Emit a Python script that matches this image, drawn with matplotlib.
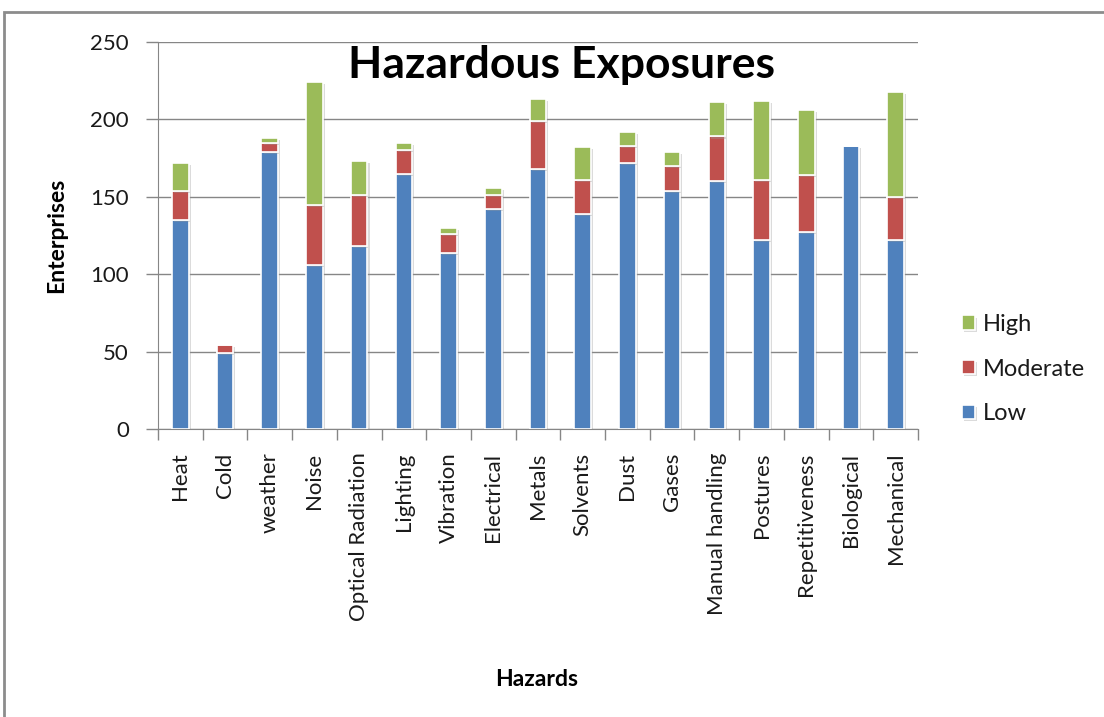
import matplotlib
matplotlib.use('Agg')
import matplotlib.pyplot as plt
import matplotlib.patheffects as pe
import numpy as np
from matplotlib.patches import Rectangle

hazards = ['Heat', 'Cold', 'weather', 'Noise', 'Optical Radiation', 'Lighting',
           'Vibration', 'Electrical', 'Metals', 'Solvents', 'Dust', 'Gases',
           'Manual handling', 'Postures', 'Repetitiveness', 'Biological', 'Mechanical']
low = [135, 49, 179, 106, 118, 165, 114, 142, 168, 139, 172, 154, 160, 122, 127, 183, 122]
moderate = [19, 5, 6, 39, 33, 15, 12, 9, 31, 22, 11, 16, 29, 39, 37, 0, 28]
high = [18, 0, 3, 79, 22, 5, 4, 5, 14, 21, 9, 9, 22, 51, 42, 0, 68]

BLUE = '#4F81BD'
RED = '#C0504D'
GREEN = '#9BBB59'
GRID = '#868686'
TEXT = '#1a1a1a'

plt.rcParams['font.family'] = ['Lato', 'DejaVu Sans']

W, H = 1104, 717
fig = plt.figure(figsize=(W / 100, H / 100), dpi=100)
fig.patch.set_facecolor('white')

# outer chart frame
fig.patches.append(Rectangle((4 / W, -0.05), 1.2, (H - 12) / H + 0.05,
                             transform=fig.transFigure, fill=False,
                             edgecolor='#8c8c8c', linewidth=2))

ax = fig.add_axes([158 / W, (H - 429) / H, (918 - 158) / W, (429 - 42) / H])

x = np.arange(len(hazards))
low_a = np.array(low)
mod_a = np.array(moderate)
high_a = np.array(high)

shadow = [pe.SimplePatchShadow(offset=(1.5, -1.5), shadow_rgbFace='#999999', alpha=0.35),
          pe.Normal()]
bw = 0.37
style = dict(width=bw, edgecolor='white', linewidth=1.2, zorder=3)
bars = []
bars.append(ax.bar(x, low_a, color=BLUE, label='Low', **style))
bars.append(ax.bar(x, mod_a, bottom=low_a, color=RED, label='Moderate', **style))
bars.append(ax.bar(x, high_a, bottom=low_a + mod_a, color=GREEN, label='High', **style))
for group in bars:
    for b in group:
        if b.get_height() > 0:
            b.set_path_effects(shadow)

ax.set_ylim(0, 250)
ax.set_xlim(-0.5, len(hazards) - 0.5)
ax.set_yticks(range(0, 251, 50))
ax.yaxis.grid(True, color=GRID, linewidth=1, zorder=0)
ax.set_axisbelow(True)

ax.set_xticks(x)
ax.set_xticklabels(hazards, rotation=90, fontsize=16, color=TEXT)
ax.set_xticks(np.arange(-0.5, len(hazards), 1), minor=True)
ax.tick_params(axis='x', which='major', length=0, pad=17)
ax.tick_params(axis='x', which='minor', length=8, color=GRID, width=1)
ax.tick_params(axis='y', length=9, color=GRID, width=1, labelsize=16,
               pad=12, labelcolor=TEXT)

for side in ['top', 'right']:
    ax.spines[side].set_visible(False)
ax.spines['left'].set_color(GRID)
ax.spines['bottom'].set_color(GRID)

fig.text(57 / W, 1 - 235 / H, 'Enterprises', fontsize=16.5, fontweight='bold',
         rotation=90, ha='center', va='center')
fig.text(537 / W, 1 - 680 / H, 'Hazards', fontsize=16.5, fontweight='bold',
         ha='center', va='center')

fig.text(561 / W, 1 - 65 / H, 'Hazardous Exposures', fontsize=32,
         fontweight='bold', ha='center', va='center')

handles, labels = ax.get_legend_handles_labels()
leg = fig.legend(handles[::-1], labels[::-1], loc='center left',
                 bbox_to_anchor=(962 / W, 1 - 369 / H), frameon=False,
                 fontsize=17, handlelength=0.55, handleheight=0.55,
                 handletextpad=0.35, labelspacing=1.0, borderpad=0,
                 borderaxespad=0)
for t in leg.get_texts():
    t.set_color(TEXT)

fig.savefig('out.png', dpi=100, facecolor='white')
